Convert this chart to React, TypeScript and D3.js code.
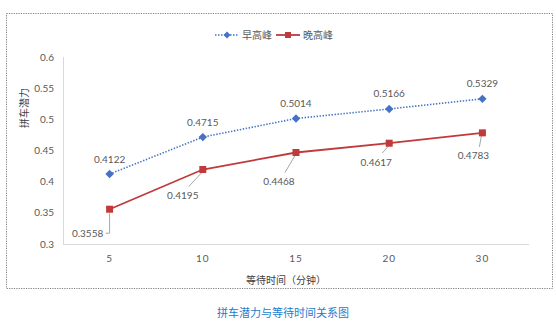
import React from "react";
import * as d3 from "d3";

const categories = ["5", "10", "15", "20", "30"];
const morningPeak = [0.4122, 0.4715, 0.5014, 0.5166, 0.5329];
const eveningPeak = [0.3558, 0.4195, 0.4468, 0.4617, 0.4783];
const yTicks = [0.3, 0.35, 0.4, 0.45, 0.5, 0.55, 0.6];
const seriesNames = ["早高峰", "晚高峰"];
const chartTitle = "拼车潜力与等待时间关系图";
const xTitle = "等待时间（分钟）";
const yTitle = "拼车潜力";

// label offsets for evening series (dx, dy of label center relative to point)
const eveLabelOffsets = [
  [-22, 24],
  [-20, 26],
  [-17, 29],
  [-13, 19],
  [-9, 23],
];

const W = 556;
const H = 326;
const BLUE = "#4472C4";
const RED = "#C0393B";
const GRAY_TEXT = "#595959";
const NUM_FONT = "Lato, 'Liberation Sans', sans-serif";
const CJK_FONT = "'Noto Sans CJK SC', sans-serif";

export default function App() {
  const x = d3.scaleBand().domain(categories).range([63, 529]);
  const y = d3.scaleLinear().domain([0.3, 0.6]).range([244, 57]);
  const cx = (c: string) => (x(c) as number) + x.bandwidth() / 2;

  const line = d3
    .line<[string, number]>()
    .x((d) => cx(d[0]))
    .y((d) => y(d[1]));

  const mData = categories.map((c, i) => [c, morningPeak[i]] as [string, number]);
  const eData = categories.map((c, i) => [c, eveningPeak[i]] as [string, number]);

  const diamond = (px: number, py: number, r = 4) =>
    `M${px},${py - r}L${px + r},${py}L${px},${py + r}L${px - r},${py}Z`;

  return (
    <svg
      width={W}
      height={H}
      style={{ position: "absolute", left: 0, top: 0, display: "block", background: "#fff" }}
    >
      {/* dotted frame */}
      <rect
        x={6.5}
        y={13.5}
        width={546}
        height={275}
        fill="none"
        stroke="#7f7f7f"
        strokeWidth={1}
        strokeDasharray="1.2 1.2"
      />

      {/* axes */}
      <line x1={63.5} x2={63.5} y1={y(0.6)} y2={y(0.3)} stroke="#d9d9d9" strokeWidth={1} />
      <line x1={63} x2={529} y1={y(0.3) + 0.5} y2={y(0.3) + 0.5} stroke="#d9d9d9" strokeWidth={1} />

      {yTicks.map((t) => (
        <text
          key={t}
          x={54}
          y={y(t)}
          dy="0.35em"
          textAnchor="end"
          fontSize={10}
          fill={GRAY_TEXT}
          fontFamily={NUM_FONT}
        >
          {t}
        </text>
      ))}
      {categories.map((c) => (
        <text
          key={c}
          x={cx(c)}
          y={258}
          dy="0.35em"
          textAnchor="middle"
          fontSize={10}
          fill={GRAY_TEXT}
          fontFamily={NUM_FONT}
          letterSpacing={1}
        >
          {c}
        </text>
      ))}

      {/* axis titles */}
      <text
        transform={`translate(24,108) rotate(-90)`}
        textAnchor="middle"
        dy="0.35em"
        fontSize={10}
        fill="#404040"
        fontFamily={CJK_FONT}
      >
        {yTitle}
      </text>
      <text
        x={286}
        y={280}
        dy="0.35em"
        textAnchor="middle"
        fontSize={10}
        fill="#404040"
        fontFamily={CJK_FONT}
      >
        {xTitle}
      </text>

      {/* legend */}
      <line x1={215} x2={239} y1={35} y2={35} stroke={BLUE} strokeWidth={1.5} strokeDasharray="1.5 1.5" />
      <path d={diamond(227, 35, 3.5)} fill={BLUE} />
      <text x={242} y={35} dy="0.35em" fontSize={10} fill={GRAY_TEXT} fontFamily={CJK_FONT}>
        {seriesNames[0]}
      </text>
      <line x1={276} x2={300} y1={35} y2={35} stroke={RED} strokeWidth={1.8} />
      <rect x={285} y={32} width={6} height={6} fill={RED} />
      <text x={303} y={35} dy="0.35em" fontSize={10} fill={GRAY_TEXT} fontFamily={CJK_FONT}>
        {seriesNames[1]}
      </text>

      {/* evening leader lines */}
      {eData.map((d, i) => {
        const px = cx(d[0]);
        const py = y(d[1]);
        const [dx, dy] = eveLabelOffsets[i];
        if (i === 0) {
          return (
            <polyline
              key={i}
              points={`${px},${py + 4} ${px},${py + dy} ${px - 4},${py + dy}`}
              fill="none"
              stroke="#a6a6a6"
              strokeWidth={1}
            />
          );
        }
        const lx = px + dx + 6;
        const ly = py + dy - 9;
        return (
          <line
            key={i}
            x1={lx}
            y1={ly}
            x2={px - 1}
            y2={py + 3}
            stroke="#a6a6a6"
            strokeWidth={1}
          />
        );
      })}

      {/* series lines */}
      <path d={line(mData) || ""} fill="none" stroke={BLUE} strokeWidth={1.6} strokeDasharray="1.4 1.6" />
      <path d={line(eData) || ""} fill="none" stroke={RED} strokeWidth={1.8} />

      {/* markers */}
      {mData.map((d, i) => (
        <path key={i} d={diamond(cx(d[0]), y(d[1]), 4.2)} fill={BLUE} />
      ))}
      {eData.map((d, i) => (
        <rect key={i} x={cx(d[0]) - 3.5} y={y(d[1]) - 3.5} width={7} height={7} fill={RED} />
      ))}

      {/* data labels */}
      {mData.map((d, i) => (
        <text
          key={i}
          x={cx(d[0])}
          y={y(d[1]) - 15}
          dy="0.35em"
          textAnchor="middle"
          fontSize={10}
          fill={GRAY_TEXT}
          fontFamily={NUM_FONT}
        >
          {d[1].toFixed(4)}
        </text>
      ))}
      {eData.map((d, i) => {
        const [dx, dy] = eveLabelOffsets[i];
        return (
          <text
            key={i}
            x={cx(d[0]) + dx - (i === 0 ? 0 : 0)}
            y={y(d[1]) + dy}
            dy="0.35em"
            textAnchor="middle"
            fontSize={10}
            fill={GRAY_TEXT}
            fontFamily={NUM_FONT}
          >
            {d[1].toFixed(4)}
          </text>
        );
      })}

      {/* chart title */}
      <text
        x={283}
        y={313}
        dy="0.35em"
        textAnchor="middle"
        fontSize={11}
        fill="#1E7BCB"
        fontFamily={CJK_FONT}
      >
        {chartTitle}
      </text>
    </svg>
  );
}
